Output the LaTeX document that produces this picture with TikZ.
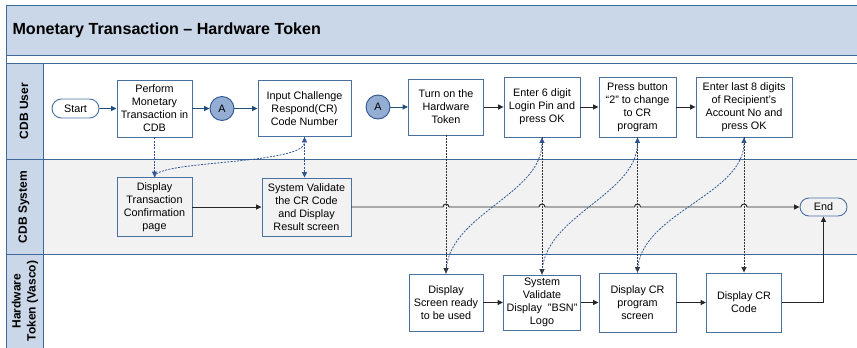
\documentclass[tikz,border=0pt]{standalone}
\usepackage{fontspec}
\setmainfont{Liberation Sans}
\usetikzlibrary{arrows.meta,shapes.misc,calc}
\definecolor{bandblue}{HTML}{C9D7E8}
\definecolor{frameblue}{HTML}{41689A}
\definecolor{boxblue}{HTML}{4A70A2}
\definecolor{lanegrey}{HTML}{F2F2F2}
\definecolor{circfill}{HTML}{93ADD3}
\definecolor{linkblue}{HTML}{2F5597}
\definecolor{arrblue}{HTML}{1F4E79}
\definecolor{dashgrey}{HTML}{333333}
\begin{document}
\begin{tikzpicture}[x=1pt,y=-1pt,
  boxtxt/.style={font=\fontsize{10.8}{13}\selectfont},
  stepbox/.style={boxtxt, draw=boxblue, line width=0.9pt, fill=white, align=center, inner sep=0pt},
  greybox/.style={stepbox, fill=lanegrey},
  term/.style={boxtxt, draw=boxblue, line width=0.9pt, fill=white, rounded rectangle, inner sep=0pt, minimum width=47pt, minimum height=19pt},
  conn/.style={boxtxt, circle, draw=linkblue, line width=0.9pt, fill=circfill, minimum size=24pt, inner sep=0pt},
  tip/.style={-{Triangle[length=5.5pt,width=5pt]}},
  flowb/.style={tip, draw=arrblue, line width=0.9pt},
  flow/.style={tip, draw=black!85, line width=0.9pt},
  bdash/.style={tip, draw=linkblue, line width=0.8pt, dash pattern=on 2pt off 1.3pt},
  kdash/.style={tip, draw=dashgrey, line width=0.8pt, dash pattern=on 2pt off 1pt},
  lanelbl/.style={rotate=90, font=\bfseries\fontsize{12}{15}\selectfont, align=center},
  frame/.style={draw=frameblue, line width=1pt}
]
\useasboundingbox (0,0) rectangle (857,348);
\clip (0,0) rectangle (857,348);
% backgrounds
\fill[bandblue] (6,5) rectangle (857,55);
\fill[bandblue] (6,63) rectangle (43,348);
\fill[lanegrey] (43,159) rectangle (857,254);
\draw[frame] (6,5) -- (857,5);
\draw[frame] (6,55) -- (857,55);
\draw[frame] (6,63) -- (857,63);
\draw[frame] (6,159) -- (857,159);
\draw[frame] (6,254) -- (857,254);
\draw[frame] (6,5) -- (6,348);
\draw[frame] (43,63) -- (43,348);
% title and lane labels
\node[anchor=west, font=\bfseries\fontsize{16.1}{18}\selectfont] (title) at (9,30) {Monetary Transaction – Hardware Token};
\node[lanelbl] (l1) at (24,111) {CDB User};
\node[lanelbl] (l2) at (24,207) {CDB System};
\node[lanelbl] (l3) at (25,301) {Hardware\\Token (Vasco)};
% CDB User lane
\node[term] (start) at (75.5,108.5) {Start};
\node[stepbox, minimum width=75pt, minimum height=57pt] (perf) at (154.5,108.5) {Perform\\Monetary\\Transaction in\\CDB};
\node[conn] (a1) at (222,108.5) {A};
\node[stepbox, minimum width=93pt, minimum height=56pt] (inp) at (304.5,108.5) {Input Challenge\\Respond(CR)\\Code Number};
\node[conn] (a2) at (378,107) {A};
\node[stepbox, minimum width=75pt, minimum height=56pt] (turn) at (446,107) {Turn on the\\Hardware\\Token};
\node[stepbox, minimum width=76pt, minimum height=60pt] (ent6) at (542,107) {Enter 6 digit\\Login Pin and\\press OK};
\node[stepbox, minimum width=77pt, minimum height=60pt] (press) at (637.5,107) {Press button\\“2” to change\\to CR\\program};
\node[stepbox, minimum width=96pt, minimum height=60pt] (ent8) at (744,107) {Enter last 8 digits\\of Recipient’s\\Account No and\\press OK};
% CDB System lane
\node[greybox, minimum width=75pt, minimum height=59pt] (disp) at (154.5,207) {Display\\Transaction\\Confirmation\\page};
\node[greybox, minimum width=89pt, minimum height=58pt] (sysv) at (306.5,207) {System Validate\\the CR Code\\and Display\\Result screen};
\node[term, fill=lanegrey, minimum height=18pt] (end) at (823.5,207) {End};
% Hardware lane
\node[stepbox, minimum width=74pt, minimum height=57pt] (scr) at (446,302.5) {Display\\Screen ready\\to be used};
\node[stepbox, minimum width=77pt, minimum height=55pt] (bsn) at (542,302.5) {System\\Validate\\Display\ \ "BSN"\\Logo};
\node[stepbox, minimum width=77pt, minimum height=59pt] (crp) at (637.5,302.5) {Display CR\\program\\screen};
\node[stepbox, minimum width=75pt, minimum height=59pt] (crc) at (744,302.5) {Display CR\\Code};
% user lane flow
\draw[flowb] (start) -- (perf);
\draw[flowb] (perf) -- (a1);
\draw[flowb] (a1) -- (inp);
\draw[flowb] (a2) -- (turn);
\draw[flow] (turn) -- (ent6);
\draw[flow] (ent6) -- (press);
\draw[flow] (press) -- (ent8);
% system lane flow
\draw[flow] (disp) -- (sysv);
\draw[flow] (sysv.east)
  -- ($(turn.south |- sysv.east)+(-3pt,0)$) arc (180:0:3pt)
  -- ($(ent6.south |- sysv.east)+(-3pt,0)$) arc (180:0:3pt)
  -- ($(press.south |- sysv.east)+(-3pt,0)$) arc (180:0:3pt)
  -- ($(ent8.south |- sysv.east)+(-3pt,0)$) arc (180:0:3pt)
  -- (end.west);
% hardware lane flow
\draw[flow] (scr) -- (bsn);
\draw[flow] (bsn) -- (crp);
\draw[flow] (crp) -- (crc);
\draw[flow] (crc.east) -| (end.south);
% dashed links
\draw[bdash] (perf.south) -- (disp.north);
\draw[bdash] (inp.south) -- (inp.south |- sysv.north);
\draw[bdash] (disp.north) .. controls +(0,-17) and +(0,28) .. (inp.south);
\draw[kdash] (turn.south) -- (scr.north);
\draw[kdash] (ent6.south) -- (bsn.north);
\draw[kdash] (press.south) -- (crp.north);
\draw[kdash] (ent8.south) -- (crc.north);
\draw[bdash] (scr.north) .. controls +(0,-59) and +(0,58) .. (ent6.south);
\draw[bdash] (bsn.north) .. controls +(0,-59) and +(0,58) .. (press.south);
\draw[bdash] (crp.north) .. controls +(0,-59) and +(0,58) .. (ent8.south);
\end{tikzpicture}
\end{document}
